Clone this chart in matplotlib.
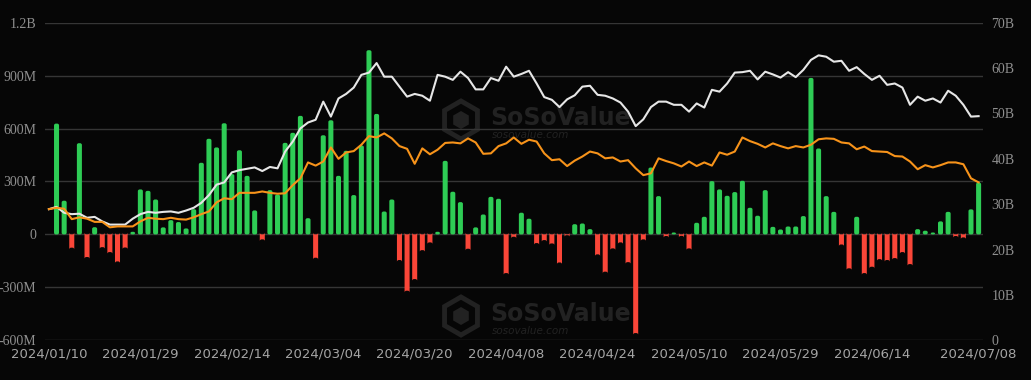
import matplotlib
matplotlib.use("Agg")
import matplotlib.pyplot as plt
import numpy as np
import pandas as pd
from matplotlib.patches import RegularPolygon, FancyBboxPatch
from matplotlib.transforms import IdentityTransform

# trading days shown on the x axis
holidays = ["2024-01-15", "2024-02-19", "2024-03-29", "2024-05-27", "2024-06-19", "2024-07-04"]
dates = pd.bdate_range("2024-01-10", "2024-07-08", freq="C", holidays=holidays)
tick_idx = [0, 12, 24, 36, 48, 60, 72, 84, 96, 108, 122]

# daily total net inflow (USD millions)
inflow = [
    0, 628, 191, -75, 517, -128, 41, -72, -100, -153,
    -74, 15, 255, 247, 198, 40, 81, 70, 34, 143,
    406, 542, 493, 630, 342, 477, 332, 136, -28, 251,
    226, 519, 576, 672, 92, -132, 562, 647, 332, 474,
    223, 504, 1044, 683, 130, 198, -145, -319, -253, -89,
    -45, 15, 417, 242, 183, -81, 40, 113, 213, 202,
    -219, -13, 123, 89, -49, -32, -51, -159, -4, 58,
    62, 30, -113, -211, -79, -45, -157, -559, -28, 379,
    217, -9, 11, -8, -79, 66, 100, 302, 255, 219,
    240, 304, 151, 106, 251, 43, 28, 45, 45, 104,
    887, 487, 217, 128, -57, -192, 100, -219, -183, -140,
    -145, -134, -100, -168, 30, 21, 11, 74, 128, -9,
    -17, 142, 294,
]

# total net assets (USD billions)
net_assets = [
    28.9, 29.4, 28.1, 27.8, 27.9, 27.0, 27.2, 26.2, 25.5, 25.5,
    25.5, 26.8, 27.8, 28.3, 28.1, 28.3, 28.4, 28.1, 28.6, 29.2,
    30.3, 32.0, 34.3, 34.8, 37.0, 37.5, 37.8, 38.1, 37.3, 38.2,
    37.9, 41.6, 43.8, 46.7, 48.0, 48.6, 52.6, 49.3, 53.3, 54.3,
    55.7, 58.5, 59.0, 61.1, 58.1, 58.1, 55.9, 53.7, 54.3, 53.9,
    52.8, 58.5, 58.1, 57.4, 59.2, 57.8, 55.3, 55.3, 57.8, 57.2,
    60.3, 58.1, 58.7, 59.4, 56.6, 53.6, 53.0, 51.4, 53.1, 54.0,
    55.9, 56.1, 54.1, 53.9, 53.3, 52.4, 50.4, 47.2, 48.7, 51.4,
    52.6, 52.6, 51.9, 51.9, 50.4, 52.2, 51.3, 55.2, 54.8, 56.6,
    59.0, 59.1, 59.4, 57.5, 59.2, 58.6, 57.9, 59.1, 58.0, 59.6,
    61.8, 62.8, 62.5, 61.4, 61.6, 59.4, 60.2, 58.7, 57.4, 58.3,
    56.3, 56.6, 55.7, 51.9, 53.7, 52.8, 53.3, 52.4, 55.0, 53.9,
    51.9, 49.3, 49.4,
]

# second line (USD billions)
orange_line = [
    28.9, 29.2, 29.0, 26.7, 27.1, 26.8, 26.1, 26.1, 24.9, 25.1,
    25.1, 25.1, 26.2, 27.0, 26.8, 26.7, 27.0, 26.7, 26.6, 27.1,
    27.8, 28.4, 30.4, 31.3, 31.1, 32.5, 32.5, 32.5, 32.8, 32.5,
    32.3, 32.4, 34.2, 35.7, 39.2, 38.5, 39.4, 42.5, 40.0, 41.4,
    41.7, 43.1, 45.0, 44.7, 45.6, 44.5, 42.8, 42.2, 38.9, 42.3,
    41.0, 42.0, 43.5, 43.6, 43.4, 44.5, 43.6, 41.1, 41.2, 42.8,
    43.4, 44.7, 43.3, 44.2, 43.8, 41.2, 39.7, 39.9, 38.4, 39.6,
    40.5, 41.6, 41.2, 40.1, 40.3, 39.4, 39.7, 37.9, 36.4, 36.8,
    40.1, 39.5, 39.0, 38.3, 39.4, 38.4, 39.2, 38.5, 41.4, 40.9,
    41.6, 44.7, 43.9, 43.3, 42.5, 43.4, 42.8, 42.3, 42.8, 42.5,
    43.1, 44.3, 44.5, 44.4, 43.6, 43.4, 42.1, 42.7, 41.7, 41.6,
    41.5, 40.6, 40.5, 39.4, 37.7, 38.6, 38.1, 38.6, 39.2, 39.2,
    38.8, 35.7, 34.8,
]

left_ticks = [-600, -300, 0, 300, 600, 900, 1200]
left_labels = ["-600M", "-300M", "0", "300M", "600M", "900M", "1.2B"]
right_ticks = [0, 10, 20, 30, 40, 50, 60, 70]
right_labels = ["0", "10B", "20B", "30B", "40B", "50B", "60B", "70B"]

bg = "#060606"
green = "#2ecc55"
red = "#fa4638"
label_col = "#8f8f8f"
wm_col = "#222222"

fig = plt.figure(figsize=(10.31, 3.80), dpi=100, facecolor=bg)

# watermark (drawn under the axes)
for cy in (118, 314):
    fig.text(490 / 1031, (380 - cy) / 380, "SoSoValue", color=wm_col, fontsize=17,
             fontweight="bold", ha="left", va="center", zorder=-2)
    fig.text(492 / 1031, (380 - cy - 17) / 380, "sosovalue.com", color=wm_col, fontsize=7.5,
             style="italic", ha="left", va="center", zorder=-2)
    hexa = RegularPolygon((461, 380 - cy - 2), 6, radius=19, facecolor="none",
                          edgecolor=wm_col, lw=3.5, transform=IdentityTransform(), zorder=-2)
    fig.add_artist(hexa)
    inner = RegularPolygon((461, 380 - cy - 2), 6, radius=9, facecolor=wm_col,
                           edgecolor="none", transform=IdentityTransform(), zorder=-2)
    fig.add_artist(inner)

ax = fig.add_axes([0.0436, 0.1045, 0.9098, 0.8358])
ax.set_facecolor("none")
x = np.arange(len(dates))
bar_colors = [green if v >= 0 else red for v in inflow]
bars = ax.bar(x, inflow, width=0.66, color=bar_colors, zorder=2)
# swap the plain rectangles for slightly rounded ones
for rect in bars:
    bx, by = rect.get_x(), rect.get_y()
    bw, bh = rect.get_width(), rect.get_height()
    if abs(bh) < 1e-9:
        rect.set_visible(False)
        continue
    rect.set_visible(False)
    ax.add_patch(FancyBboxPatch((bx, by), bw, bh,
                                boxstyle="round,pad=0,rounding_size=0.25",
                                mutation_aspect=40, facecolor=rect.get_facecolor(),
                                edgecolor="none", zorder=2))
ax.set_xlim(-0.52, 122.57)
ax.set_ylim(-600, 1200)
ax.set_yticks(left_ticks)
ax.set_yticklabels(left_labels, fontfamily="Liberation Serif", fontsize=10, color=label_col)
ax.grid(axis="y", color="#353535", lw=1, zorder=0)
ax.set_xticks(tick_idx)
ax.set_xticklabels([dates[i].strftime("%Y/%m/%d") for i in tick_idx],
                   fontsize=9.5, color="#a5a5a5")
ax.tick_params(axis="y", length=0, pad=6)
ax.tick_params(axis="x", length=0, pad=5)
for s in ax.spines.values():
    s.set_visible(False)

ax2 = ax.twinx()
ax2.set_facecolor("none")
ax2.plot(x, net_assets, color="#e6e6e6", lw=1.5, zorder=3)
ax2.plot(x, orange_line, color="#f7931a", lw=1.5, zorder=3)
ax2.set_ylim(0, 70)
ax2.set_yticks(right_ticks)
ax2.set_yticklabels(right_labels, fontfamily="Liberation Serif", fontsize=10, color=label_col)
ax2.tick_params(axis="y", length=0, pad=6)
for s in ax2.spines.values():
    s.set_visible(False)

fig.savefig("out.png", dpi=100, facecolor=bg)
